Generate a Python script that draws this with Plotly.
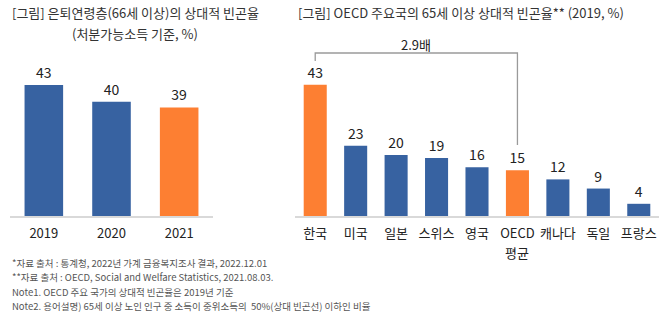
import plotly.graph_objects as go

# Left chart data
years = ["2019", "2020", "2021"]
year_values = [43, 40, 39]
highlight_year = "2021"

# Right chart data
countries = ["한국", "미국", "일본", "스위스", "영국", "OECD 평균", "캐나다", "독일", "프랑스"]
country_ticktext = ["한국", "미국", "일본", "스위스", "영국", "OECD", "캐나다", "독일", "프랑스"]
oecd_second_line = "평균"
country_values = [43, 23, 20, 19, 16, 15, 12, 9, 4]
highlight_countries = ["한국", "OECD 평균"]

ratio_label = "2.9배"

title_left_1 = "[그림] 은퇴연령층(66세 이상)의 상대적 빈곤율"
title_left_2 = "(처분가능소득 기준, %)"
title_right = "[그림] OECD 주요국의 65세 이상 상대적 빈곤율** (2019, %)"
footnotes = [
    "*자료 출처 : 통계청, 2022년 가계 금융복지조사 결과, 2022.12.01",
    "**자료 출처 : OECD, Social and Welfare Statistics, 2021.08.03.",
    "Note1. OECD 주요 국가의 상대적 빈곤율은 2019년 기준",
    "Note2. 용어설명) 65세 이상 노인 인구 중 소득이 중위소득의  50%(상대 빈곤선) 이하인 비율",
]

BLUE = "#3762A1"
ORANGE = "#FD7F32"
FONT = "Noto Sans CJK KR"
W, H = 668, 324

def px_x(p):
    return p / W

def px_y(p):
    return (H - p) / H

fig = go.Figure()

fig.add_trace(go.Bar(
    x=years, y=year_values,
    marker=dict(color=[ORANGE if c == highlight_year else BLUE for c in years], line=dict(width=0)),
    texttemplate="%{y}", textposition="outside",
    textfont=dict(size=14, color="#222", family=FONT),
    cliponaxis=False, xaxis="x", yaxis="y", showlegend=False,
))

fig.add_trace(go.Bar(
    x=countries, y=country_values,
    marker=dict(color=[ORANGE if c in highlight_countries else BLUE for c in countries], line=dict(width=0)),
    texttemplate="%{y}", textposition="outside",
    textfont=dict(size=14, color="#222", family=FONT),
    cliponaxis=False, xaxis="x2", yaxis="y2", showlegend=False,
))

base_px = 216
left_scale = 5.57
right_scale = 3.05
top_left = 60
top_right = 40

axis_common = dict(
    showline=True, linecolor="#d9d9d9", linewidth=1.5,
    ticks="", showgrid=False, zeroline=False, fixedrange=True,
    ticklabelstandoff=5,
    tickfont=dict(size=13, color="#222", family=FONT),
)

fig.update_layout(
    width=W, height=H,
    margin=dict(l=0, r=0, t=0, b=0),
    paper_bgcolor="white", plot_bgcolor="white",
    font=dict(family=FONT, color="#333"),
    bargap=0.43,
    xaxis=dict(domain=[px_x(10), px_x(213)], anchor="y", **axis_common),
    yaxis=dict(domain=[px_y(base_px), px_y(top_left)], anchor="x", visible=False,
               range=[19.5, 19.5 + (base_px - top_left) / left_scale]),
    xaxis2=dict(domain=[px_x(295), px_x(659)], anchor="y2",
                tickmode="array", tickvals=countries, ticktext=country_ticktext, **axis_common),
    yaxis2=dict(domain=[px_y(base_px), px_y(top_right)], anchor="x2", visible=False,
                range=[0, (base_px - top_right) / right_scale]),
)

def val_y(p):
    return (base_px - p) / right_scale

# bracket between Korea and OECD average
i_kr = countries.index("한국")
i_oecd = countries.index("OECD 평균")
fig.add_shape(type="path",
              path=f"M {i_kr},{val_y(61)} L {i_kr},{val_y(53)} L {i_oecd},{val_y(53)} L {i_oecd},{val_y(145)}",
              xref="x2", yref="y2", line=dict(color="#9a9a9a", width=1.3))

annotations = [
    dict(text=title_left_1, x=px_x(135), y=px_y(13), xref="paper", yref="paper",
         xanchor="center", yanchor="middle", showarrow=False,
         font=dict(size=13, color="#333", family=FONT)),
    dict(text=title_left_2, x=px_x(135), y=px_y(33), xref="paper", yref="paper",
         xanchor="center", yanchor="middle", showarrow=False,
         font=dict(size=13, color="#333", family=FONT)),
    dict(text=title_right, x=px_x(461), y=px_y(13), xref="paper", yref="paper",
         xanchor="center", yanchor="middle", showarrow=False,
         font=dict(size=13, color="#333", family=FONT)),
    dict(text=ratio_label, x=(i_kr + i_oecd) / 2, y=px_y(44), xref="x2", yref="paper",
         xanchor="center", yanchor="middle", showarrow=False,
         font=dict(size=13, color="#222", family=FONT)),
    dict(text=oecd_second_line, x=i_oecd, y=px_y(252), xref="x2", yref="paper",
         xanchor="center", yanchor="middle", showarrow=False,
         font=dict(size=13, color="#222", family=FONT)),
]
for k, line in enumerate(footnotes):
    annotations.append(dict(text=line, x=px_x(10), y=px_y(263 + k * 14.3), xref="paper", yref="paper",
                            xanchor="left", yanchor="middle", showarrow=False,
                            font=dict(size=9.5, color="#555", family=FONT)))
fig.update_layout(annotations=annotations)

fig.write_html("out.html")
